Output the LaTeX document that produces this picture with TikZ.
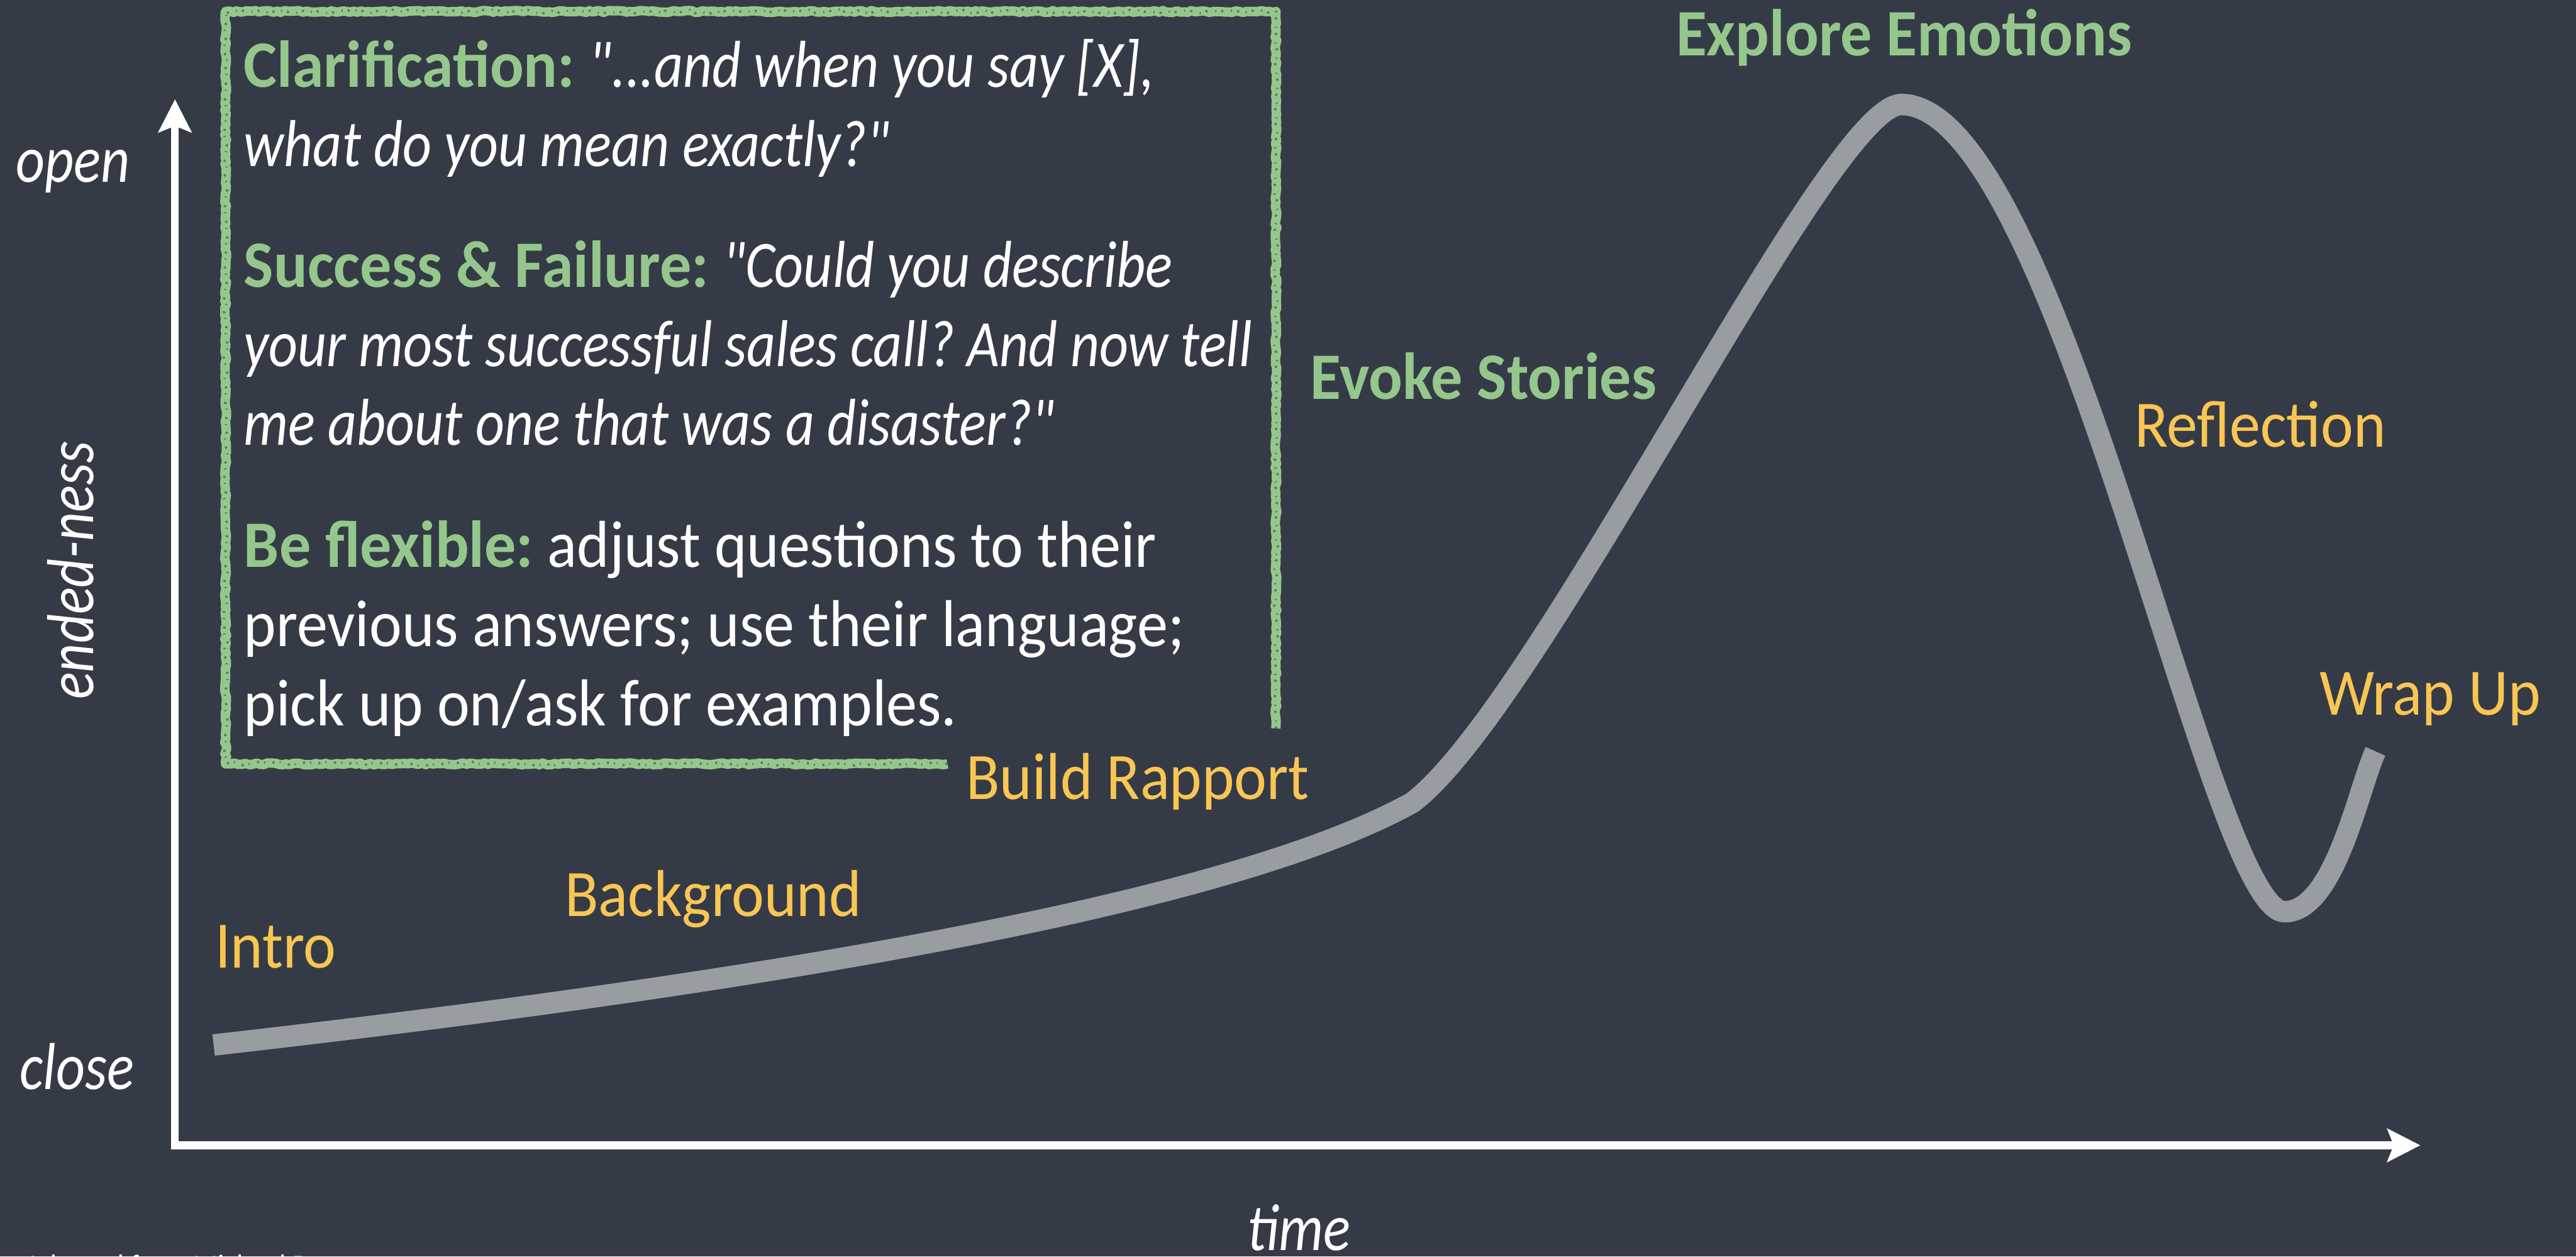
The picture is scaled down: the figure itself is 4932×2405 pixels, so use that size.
\documentclass[tikz,border=0pt]{standalone}
\usepackage{fontspec}
\setmainfont{Carlito}[Ligatures=TeXOff,FakeStretch=0.93,BoldFeatures={FakeStretch=0.95},ItalicFeatures={FakeStretch=0.85}]
\usetikzlibrary{arrows.meta,decorations.pathmorphing}

\definecolor{slate}{RGB}{53,59,70}
\definecolor{chalkgreen}{RGB}{149,199,141}
\definecolor{amber}{RGB}{249,198,84}
\definecolor{trail}{RGB}{151,157,161}
\newcommand\labelsize{\fontsize{36.1pt}{43pt}\selectfont}

\begin{document}
\frenchspacing
\begin{tikzpicture}[x=0.01cm,y=-0.01cm,
  txt/.style={anchor=base west,inner sep=0pt,outer sep=0pt,text=white,font=\labelsize},
  phase/.style={txt,text=amber},
  theme/.style={txt,text=chalkgreen,font=\labelsize\bfseries},
  axislbl/.style={txt,font=\labelsize\itshape},
  axisline/.style={white,line width=0.15cm,line join=miter,
    >={Stealth[length=0.63cm,width=0.63cm,inset=0.12cm]},<->},
  chalk/.style={chalkgreen,line width=0.18cm,line join=round,decorate,
    decoration={random steps,segment length=2pt,amplitude=0.5pt}},
  chalkgrain/.style={slate,line width=0.045cm,opacity=0.55,
    dash pattern=on 1.2pt off 4.1pt on 0.6pt off 2.7pt,decorate,
    decoration={random steps,segment length=3pt,amplitude=1.1pt}},
  trailline/.style={trail,line width=0.41cm,line cap=butt,line join=round},
]
% canvas
\useasboundingbox (0,0) rectangle (4932,2405);
\fill[slate] (0,0) rectangle (4932,2405);
\clip (0,0) rectangle (4932,2405);

% axes
\coordinate (origin) at (335,2192);
\coordinate (ytip) at (335,190);
\coordinate (xtip) at (4634,2192);
\draw[axisline] (ytip) -- (origin) -- (xtip);

% chalk frame around the interviewing tips (open at the lower right)
\coordinate (bxA) at (1814,1462);
\coordinate (bxB) at (432,1462);
\coordinate (bxC) at (432,22);
\coordinate (bxD) at (2443,22);
\coordinate (bxE) at (2443,1394);
\draw[chalk] (bxA) -- (bxB) -- (bxC) -- (bxD) -- (bxE);
\draw[chalkgrain] (bxA) -- (bxB) -- (bxC) -- (bxD) -- (bxE);

% interview curve: slow rise, peak, dip, short wrap-up rise
\coordinate (cStart) at (409,2000);
\coordinate (cKnee) at (2704,1536);
\coordinate (cPeak) at (3640,200);
\coordinate (cMin) at (4374,1745);
\coordinate (cEnd) at (4548,1438);
\draw[trailline] (cStart)
  .. controls (1200,1910) and (2300,1760) .. (cKnee)
  .. controls (2950,1350) and (3500,200) .. (cPeak)
  .. controls (3941,200) and (4230,1745) .. (cMin)
  .. controls (4470,1745) and (4515,1510) .. (cEnd);

% tips inside the frame
\node[txt] (clar1) at (467,167) {{\bfseries\color{chalkgreen}Clarification:} {\itshape "...and when you say [X],}};
\node[txt] (clar2) at (467,319) {\itshape what do you mean exactly?"};
\node[txt] (succ1) at (467,550) {{\bfseries\color{chalkgreen}Success \& Failure:} {\itshape "Could you describe}};
\node[txt] (succ2) at (467,701) {\itshape your most successful sales call? And now tell};
\node[txt] (succ3) at (467,852) {\itshape me about one that was a disaster?"};
\node[txt] (flex1) at (467,1085) {{\bfseries\color{chalkgreen}Be flexible:} adjust questions to their};
\node[txt] (flex2) at (467,1237) {previous answers; use their language;};
\node[txt] (flex3) at (467,1389) {pick up on/ask for examples.};

% phases along the curve
\node[phase] (intro) at (412,1852) {Intro};
\node[phase] (background) at (1082,1754) {Background};
\node[phase] (rapport) at (1850,1530) {Build Rapport};
\node[theme] (stories) at (2509,764) {Evoke Stories};
\node[theme] (emotions) at (3209,107) {Explore Emotions};
\node[phase] (reflection) at (4087,855) {Reflection};
\node[phase] (wrapup) at (4441,1369) {Wrap Up};

% axis labels
\node[axislbl] (open) at (31,348) {open};
\node[axislbl] (close) at (38,2085) {close};
\node[axislbl,anchor=base,rotate=90] (endedness) at (179,1092) {ended-ness};
\node[axislbl] (time) at (2388,2393) {time};
\node[txt,font=\fontsize{16.8pt}{20pt}\selectfont] (credit) at (48,2443) {Adapted from Michael D};
\end{tikzpicture}
\end{document}
